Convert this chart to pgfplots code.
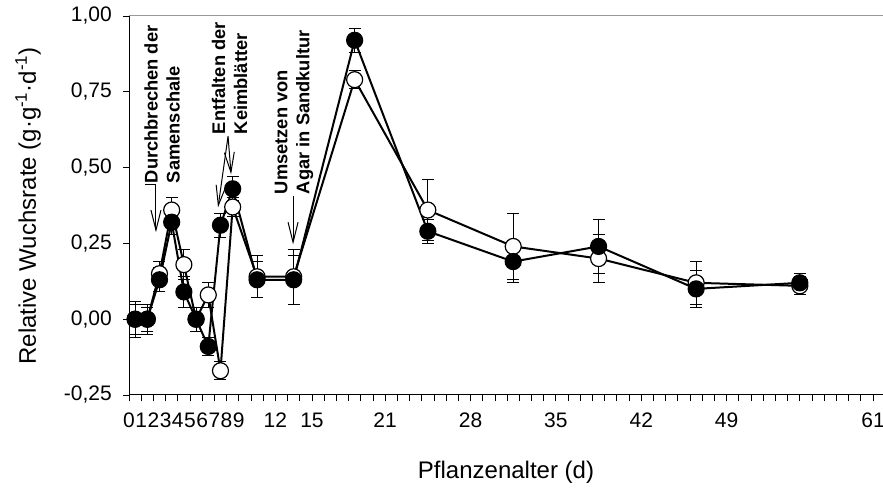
\documentclass[border=0pt]{standalone}
\usepackage{fontspec}
\setmainfont{Liberation Sans}
\usepackage{pgfplots}
\usepackage{pgfplotstable}
\pgfplotsset{compat=1.18}
\usetikzlibrary{arrows.meta}

\pgfplotstableread{
x y e
0.5 0.00 0.05
1.5 0.00 0.04
2.5 0.15 0.04
3.5 0.36 0.04
4.5 0.18 0.05
5.5 0.00 0.04
6.5 0.08 0.04
7.5 -0.17 0.03
8.5 0.37 0.03
10.5 0.14 0.07
13.5 0.14 0.09
18.5 0.79 0.03
24.5 0.36 0.10
31.5 0.24 0.11
38.5 0.20 0.08
46.5 0.12 0.07
55 0.11 0.03
}\opendata

\pgfplotstableread{
x y e
0.5 0.00 0.06
1.5 0.00 0.05
2.5 0.13 0.04
3.5 0.32 0.04
4.5 0.09 0.05
5.5 0.00 0.04
6.5 -0.09 0.03
7.5 0.31 0.04
8.5 0.43 0.04
10.5 0.13 0.06
13.5 0.13 0.08
18.5 0.92 0.04
24.5 0.29 0.04
31.5 0.19 0.07
38.5 0.24 0.09
46.5 0.10 0.06
55 0.12 0.03
}\closeddata

\begin{document}
\begin{tikzpicture}[x=1pt,y=1pt]
\path[use as bounding box] (0,0) rectangle (883,487);
\begin{axis}[
  at={(129pt,92pt)}, anchor=south west,
  scale only axis, width=754pt, height=379pt,
  xmin=0, xmax=61.82, ymin=-0.25, ymax=1.0,
  axis x line*=bottom, axis y line*=left,
  axis line style={black, line width=1pt, -},
  tick align=outside,
  major tick length=6pt, minor tick length=6pt,
  tick style={black, line width=0.8pt},
  xtick={0,1,2,3,4,5,6,7,8,9,12,15,21,28,35,42,49,61},
  minor xtick={0,1,...,61},
  ytick={-0.25,0,0.25,0.5,0.75,1.0},
  yticklabels={{-0,25},{0,00},{0,25},{0,50},{0,75},{1,00}},
  /pgf/number format/assume math mode=true,
  ticklabel style={font=\fontsize{21}{24}\selectfont},
  xticklabel style={inner sep=0pt, yshift=-12pt},
  yticklabel style={inner sep=0pt, xshift=-11pt},
  clip=false,
]
\addplot[black, line width=2pt, mark=*, mark size=8pt,
  mark options={fill=white, draw=black, line width=1.2pt, solid},
  error bars/.cd, y dir=both, y explicit,
  error bar style={line width=1pt, black},
  error mark options={rotate=90, mark size=6pt, line width=1pt, black}]
  table[x=x, y=y, y error=e] {\opendata};
\addplot[black, line width=2pt, mark=*, mark size=8pt,
  mark options={fill=black, draw=black, line width=1.2pt, solid},
  error bars/.cd, y dir=both, y explicit,
  error bar style={line width=1pt, black},
  error mark options={rotate=90, mark size=6pt, line width=1pt, black}]
  table[x=x, y=y, y error=e] {\closeddata};

\draw[gray!80, line width=1pt] (rel axis cs:0,1) -- (rel axis cs:1,1);

% annotations
\node[rotate=90, align=left, anchor=west, inner sep=0pt,
  font=\bfseries\fontsize{18.3}{22}\selectfont] at (axis cs:2.71,0.448) {Durchbrechen der\\Samenschale};
\draw[line width=1pt, -{Straight Barb[length=20pt,width=10pt]}]
  (axis cs:1.3,0.445) -- (axis cs:2.21,0.445) -- (axis cs:2.21,0.287);

\node[rotate=90, align=left, anchor=west, inner sep=0pt,
  font=\bfseries\fontsize{18.3}{22}\selectfont] at (axis cs:8.24,0.61) {Entfalten der\\Keimblätter};
\draw[line width=1pt, -{Straight Barb[length=20pt,width=10pt]}]
  (axis cs:8.12,0.603) -- (axis cs:7.30,0.369);
\draw[line width=1pt, -{Straight Barb[length=20pt,width=10pt]}]
  (axis cs:8.12,0.603) -- (axis cs:8.37,0.478);

\node[rotate=90, align=left, anchor=west, inner sep=0pt,
  font=\bfseries\fontsize{18.3}{22}\selectfont] at (axis cs:13.53,0.412) {Umsetzen von\\Agar in Sandkultur};
\draw[line width=1pt, -{Straight Barb[length=20pt,width=10pt]}]
  (axis cs:13.45,0.406) -- (axis cs:13.45,0.247);
\end{axis}
\node[rotate=90, font=\fontsize{24}{28}\selectfont] at (28,281) {Relative Wuchsrate (g·g\textsuperscript{-1}·d\textsuperscript{-1})};
\node[font=\fontsize{24}{28}\selectfont] at (506,15) {Pflanzenalter (d)};
\end{tikzpicture}
\end{document}
